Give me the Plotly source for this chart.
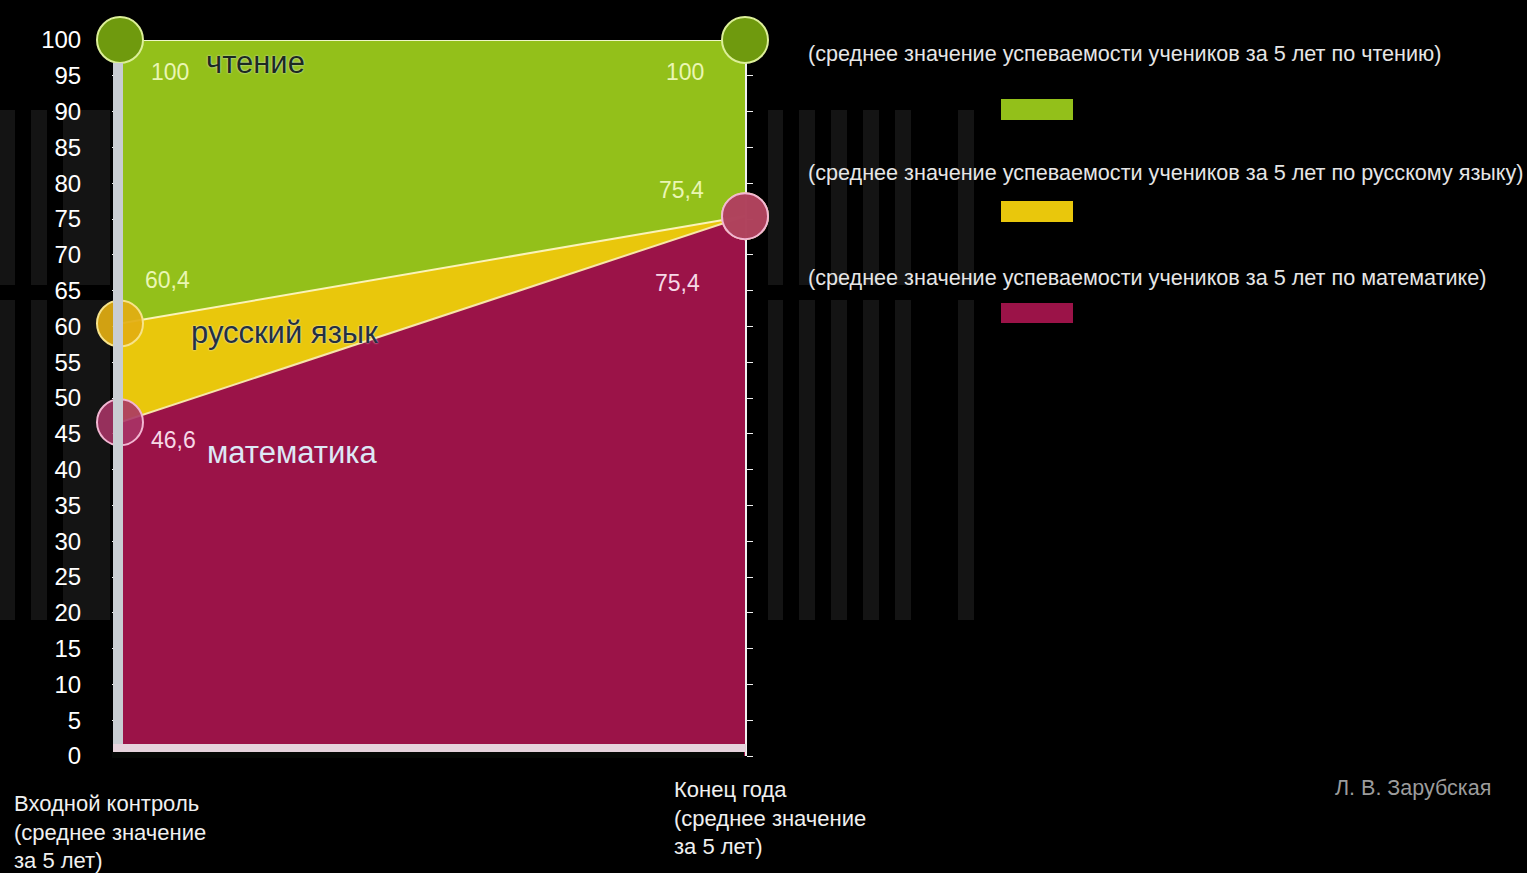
import plotly.graph_objects as go

W, H = 1527, 873

# ---- data ----
x_pos = [0, 1]
categories = ["Входной контроль<br>(среднее значение<br>за 5 лет)",
              "Конец года<br>(среднее значение<br>за 5 лет)"]
series_names = ["чтение", "русский язык", "математика"]
reading = [100, 100]
russian = [60.4, 75.4]
math = [46.6, 75.4]
legend_texts = [
    "(среднее значение успеваемости учеников за 5 лет по чтению)",
    "(среднее значение успеваемости учеников за 5 лет по русскому языку)",
    "(среднее значение успеваемости учеников за 5 лет по математике)",
]
y_ticks = list(range(0, 101, 5))
author = "Л. В. Зарубская"

GREEN = "#93c01a"
YELLOW = "#e9c70c"
CRIMSON = "#9b1348"


def px(x):
    return x / W


def py(y):
    return 1 - y / H


def fmt(v):
    return ("%g" % v).replace(".", ",")


fig = go.Figure()

# areas (overlapping, drawn back to front)
fig.add_trace(go.Scatter(x=x_pos, y=reading, mode="lines", fill="tozeroy",
                         fillcolor=GREEN, line=dict(color="#eef6c8", width=2),
                         hoverinfo="skip", showlegend=False))
fig.add_trace(go.Scatter(x=x_pos, y=russian, mode="lines", fill="tozeroy",
                         fillcolor=YELLOW, line=dict(color="#fbf3b8", width=2),
                         hoverinfo="skip", showlegend=False))
fig.add_trace(go.Scatter(x=x_pos, y=math, mode="lines", fill="tozeroy",
                         fillcolor=CRIMSON, line=dict(color="#f7e6a8", width=2),
                         hoverinfo="skip", showlegend=False))

# endpoint markers
fig.add_trace(go.Scatter(x=x_pos, y=reading, mode="markers", cliponaxis=False,
                         marker=dict(size=46, color="#6f9a0e",
                                     line=dict(color="#dcef98", width=2)),
                         hoverinfo="skip", showlegend=False))
fig.add_trace(go.Scatter(x=x_pos, y=russian, mode="markers", cliponaxis=False,
                         marker=dict(size=46, color="rgba(226,174,18,0.92)",
                                     line=dict(color="#f7e38a", width=2)),
                         hoverinfo="skip", showlegend=False))
fig.add_trace(go.Scatter(x=x_pos, y=math, mode="markers", cliponaxis=False,
                         marker=dict(size=46, color="rgba(168,52,102,0.88)",
                                     line=dict(color="#f2b6d2", width=2)),
                         hoverinfo="skip", showlegend=False))

x0, x1 = 120, 745
y100, y0 = 40, 756

fig.update_layout(
    width=W, height=H,
    margin=dict(l=0, r=0, t=0, b=0, pad=0, autoexpand=False),
    showlegend=False,
    paper_bgcolor="black", plot_bgcolor="black",
    font=dict(family="Liberation Sans, Arial, sans-serif", color="white"),
    xaxis=dict(domain=[px(x0), px(x1)], range=[0, 1], showgrid=False, automargin=False,
               zeroline=False, showticklabels=False, showline=False, fixedrange=True),
    yaxis=dict(domain=[py(y0), py(y100)], range=[0, 100], showgrid=False, automargin=False,
               zeroline=False, tickvals=y_ticks, ticktext=[str(t) for t in y_ticks],
               tickfont=dict(size=24, color="white"),
               showline=True, mirror="ticks", linecolor="#f0f0f0", linewidth=2,
               ticks="outside", ticklen=6, tickcolor="#f0f0f0", tickwidth=1,
               ticklabelstandoff=26, fixedrange=True, layer="below traces"),
)

shapes = []
# faint background stripes
stripe_col = "rgba(60,60,60,0.33)"
bands = [(110, 285), (300, 620)]
stripe_x = [(0, 15), (31, 47), (63, 110), (768, 783), (799, 815), (831, 847),
            (863, 879), (895, 911), (958, 974)]
for (ya, yb) in bands:
    for (xa, xb) in stripe_x:
        shapes.append(dict(type="rect", xref="paper", yref="paper",
                           x0=px(xa), x1=px(xb), y0=py(yb), y1=py(ya),
                           fillcolor=stripe_col, line=dict(width=0), layer="below"))
# left grey bar and bottom strip
shapes.append(dict(type="rect", xref="paper", yref="paper",
                   x0=px(113), x1=px(123), y0=py(752), y1=py(63),
                   fillcolor="#c9cdd2", line=dict(width=0), layer="above"))
shapes.append(dict(type="rect", xref="paper", yref="paper",
                   x0=px(113), x1=px(746), y0=py(752), y1=py(744),
                   fillcolor="#e6d3dc", line=dict(width=0), layer="above"))
shapes.append(dict(type="rect", xref="paper", yref="paper",
                   x0=px(112), x1=px(744), y0=py(758), y1=py(752),
                   fillcolor="#050805", line=dict(width=0), layer="above"))

# legend swatches
swatch_y = [(99, 120), (201, 222), (303, 323)]
swatch_cols = [GREEN, YELLOW, CRIMSON]
for (ya, yb), c in zip(swatch_y, swatch_cols):
    shapes.append(dict(type="rect", xref="paper", yref="paper",
                       x0=px(1001), x1=px(1073), y0=py(yb), y1=py(ya),
                       fillcolor=c, line=dict(width=0)))
fig.update_layout(shapes=shapes)

ann = []
# legend texts
for t, yy in zip(legend_texts, [53, 173, 277]):
    ann.append(dict(text=t, xref="paper", yref="paper", x=px(806), y=py(yy),
                    xanchor="left", yanchor="middle", showarrow=False,
                    font=dict(family="Liberation Sans Narrow, Arial Narrow, Liberation Sans, sans-serif",
                              size=21.6, color="#e6e6e6")))

# value labels
val_specs = [
    (reading[0], 170, 72, "#eaf6b4"), (reading[1], 685, 72, "#eaf6b4"),
    (russian[0], 167, 280, "#eaf6b4"), (russian[1], 681, 190, "#eaf6b4"),
    (math[0], 173, 440, "#f6d8e6"), (math[1], 677, 283, "#f6d8e6"),
]
for v, xx, yy, col in val_specs:
    ann.append(dict(text=fmt(v), xref="paper", yref="paper", x=px(xx), y=py(yy),
                    xanchor="center", yanchor="middle", showarrow=False,
                    font=dict(size=23, color=col)))

# series name labels
ann.append(dict(text=series_names[0], xref="paper", yref="paper", x=px(204), y=py(63),
                xanchor="left", yanchor="middle", showarrow=False,
                font=dict(size=31, color="#1c2a20", shadow="0px 0px 2px #e8f2ff")))
ann.append(dict(text=series_names[1], xref="paper", yref="paper", x=px(189), y=py(332),
                xanchor="left", yanchor="middle", showarrow=False,
                font=dict(size=31, color="#243040", shadow="0px 0px 2px #f0f4ff")))
ann.append(dict(text=series_names[2], xref="paper", yref="paper", x=px(205), y=py(452),
                xanchor="left", yanchor="middle", showarrow=False,
                font=dict(size=31, color="#dde8f6")))

# category labels under the axis
ann.append(dict(text=categories[0], xref="paper", yref="paper", x=px(12), y=py(789),
                xanchor="left", yanchor="top", align="left", showarrow=False,
                font=dict(size=22, color="#f0f0f0")))
ann.append(dict(text=categories[1], xref="paper", yref="paper", x=px(672), y=py(775),
                xanchor="left", yanchor="top", align="left", showarrow=False,
                font=dict(size=22, color="#f0f0f0")))

# author
ann.append(dict(text=author, xref="paper", yref="paper", x=px(1333), y=py(788),
                xanchor="left", yanchor="middle", showarrow=False,
                font=dict(size=21.5, color="#9c9c9c")))

fig.update_layout(annotations=ann)

fig.write_html("out.html", config={"displayModeBar": False},
               post_script="document.body.style.margin='0';document.body.style.overflow='hidden';")
